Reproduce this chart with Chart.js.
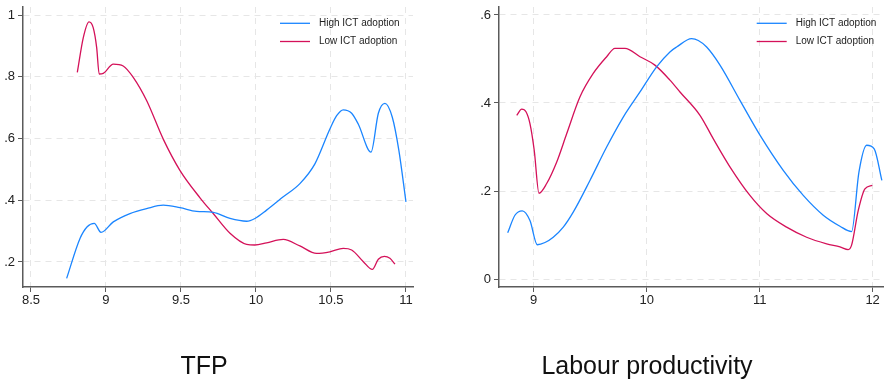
<!DOCTYPE html>
<html>
<head>
<meta charset="utf-8">
<script src="https://cdn.jsdelivr.net/npm/chart.js@4/dist/chart.umd.min.js"></script>
<style>
  html, body { margin: 0; padding: 0; background: #fff; }
  #wrap { position: relative; width: 888px; height: 380px; overflow: hidden; }
  .box { position: absolute; top: 0; width: 444px; height: 380px; }
  .title { position: absolute; font-family: "Liberation Sans", Arial, sans-serif; font-size: 25px; color: #111;
           line-height: 25px; white-space: nowrap; transform: translateX(-50%); }
</style>
</head>
<body>
<div id="wrap">
  <div class="box" style="left:0"><canvas id="tfp"></canvas></div>
  <div class="box" style="left:444px"><canvas id="lp"></canvas></div>
  <div class="title" style="left:204px; top:353px">TFP</div>
  <div class="title" style="left:647px; top:353px">Labour productivity</div>
</div>
<script>
// series names
const seriesNames = ['High ICT adoption', 'Low ICT adoption'];

// TFP panel
const tfpHighX = [8.738, 8.827, 8.875, 8.922, 8.967, 9.049, 9.16, 9.271, 9.382, 9.493, 9.604, 9.715, 9.827, 9.938, 9.993, 10.071, 10.182, 10.293, 10.393, 10.493, 10.538, 10.582, 10.638, 10.682, 10.767, 10.816, 10.86, 10.909, 10.953, 11.0];
const tfpHighY = [0.147, 0.276, 0.314, 0.325, 0.296, 0.330, 0.357, 0.373, 0.384, 0.376, 0.364, 0.361, 0.341, 0.332, 0.341, 0.368, 0.411, 0.454, 0.518, 0.631, 0.674, 0.693, 0.682, 0.647, 0.556, 0.682, 0.714, 0.669, 0.561, 0.395];
const tfpLowX = [8.809, 8.849, 8.887, 8.915, 8.938, 8.955, 8.982, 9.049, 9.115, 9.182, 9.271, 9.382, 9.493, 9.627, 9.715, 9.827, 9.938, 9.993, 10.071, 10.182, 10.293, 10.404, 10.493, 10.582, 10.638, 10.716, 10.776, 10.816, 10.856, 10.893, 10.927];
const tfpLowY = [0.814, 0.927, 0.978, 0.959, 0.895, 0.809, 0.811, 0.841, 0.835, 0.798, 0.723, 0.598, 0.497, 0.408, 0.357, 0.293, 0.257, 0.255, 0.262, 0.273, 0.252, 0.228, 0.233, 0.244, 0.239, 0.201, 0.176, 0.209, 0.218, 0.212, 0.193];
const tfpXTicks = [8.5, 9, 9.5, 10, 10.5, 11];
const tfpYTicks = [0.2, 0.4, 0.6, 0.8, 1];

// Labour productivity panel
const lpHighX = [8.770, 8.834, 8.899, 8.967, 9.032, 9.1, 9.173, 9.262, 9.35, 9.498, 9.646, 9.793, 9.941, 10.088, 10.206, 10.265, 10.398, 10.457, 10.531, 10.649, 10.826, 11.003, 11.209, 11.386, 11.563, 11.711, 11.814, 11.879, 11.947, 12.014, 12.082];
const lpHighY = [0.105, 0.145, 0.155, 0.133, 0.078, 0.083, 0.095, 0.118, 0.152, 0.224, 0.300, 0.368, 0.425, 0.482, 0.516, 0.527, 0.546, 0.542, 0.527, 0.486, 0.406, 0.327, 0.247, 0.190, 0.145, 0.120, 0.108, 0.243, 0.304, 0.296, 0.224];
const lpLowX = [8.85, 8.894, 8.932, 8.967, 9.005, 9.047, 9.115, 9.204, 9.292, 9.41, 9.527, 9.646, 9.719, 9.808, 9.941, 10.073, 10.206, 10.295, 10.472, 10.589, 10.737, 10.914, 11.062, 11.239, 11.416, 11.593, 11.711, 11.784, 11.814, 11.873, 11.932, 11.997];
const lpLowY = [0.372, 0.386, 0.380, 0.353, 0.292, 0.195, 0.217, 0.266, 0.330, 0.414, 0.467, 0.505, 0.524, 0.524, 0.505, 0.486, 0.452, 0.425, 0.372, 0.319, 0.255, 0.190, 0.149, 0.118, 0.095, 0.080, 0.073, 0.067, 0.077, 0.156, 0.205, 0.213];
const lpXTicks = [9, 10, 11, 12];
const lpYTicks = [0, 0.2, 0.4, 0.6];

const BLUE = '#1a85ff';
const RED = '#d41159';
const GRID = '#e6e6e6';
const AXIS = '#5a5a5a';

function toPoints(xs, ys) {
  return xs.map((x, i) => ({ x: x, y: ys[i] }));
}

function fmtY(v) {
  if (Math.abs(v) < 1e-9) return '0';
  if (Math.abs(v - 1) < 1e-9) return '1';
  return String(Number(v.toFixed(1))).replace(/^0/, '');
}

// legend in the top right corner of the plot area
function legendPlugin(lineX) {
  return {
    id: 'cornerLegend',
    afterDraw(chart) {
      const ctx = chart.ctx;
      const rows = [[seriesNames[0], BLUE, 23.3], [seriesNames[1], RED, 41.5]];
      ctx.save();
      ctx.font = '10px "Liberation Sans", Arial, sans-serif';
      ctx.textBaseline = 'middle';
      rows.forEach(([label, color, y]) => {
        ctx.strokeStyle = color;
        ctx.lineWidth = 1.3;
        ctx.beginPath();
        ctx.moveTo(lineX, y);
        ctx.lineTo(lineX + 30, y);
        ctx.stroke();
        ctx.fillStyle = '#222';
        ctx.fillText(label, lineX + 39, y);
      });
      ctx.restore();
    }
  };
}

function makeChart(id, cfg) {
  const tickFont = { family: '"Liberation Sans", Arial, sans-serif', size: 13 };
  return new Chart(document.getElementById(id), {
    type: 'line',
    data: {
      datasets: [
        { label: seriesNames[0], data: toPoints(cfg.hx, cfg.hy), borderColor: BLUE, borderWidth: 1.3, pointRadius: 0, cubicInterpolationMode: 'monotone', fill: false },
        { label: seriesNames[1], data: toPoints(cfg.lx, cfg.ly), borderColor: RED, borderWidth: 1.3, pointRadius: 0, cubicInterpolationMode: 'monotone', fill: false }
      ]
    },
    options: {
      responsive: false,
      animation: false,
      devicePixelRatio: 1,
      layout: { padding: { left: 0, top: 7, right: cfg.padRight, bottom: 0 } },
      plugins: { legend: { display: false }, tooltip: { enabled: false } },
      scales: {
        x: {
          type: 'linear',
          min: cfg.xMin,
          max: cfg.xMax,
          afterBuildTicks: (s) => { s.ticks = cfg.xTicks.map((v) => ({ value: v })); },
          afterFit: (s) => { s.height = 93; s.paddingLeft = 0; s.paddingRight = 0; },
          ticks: { font: tickFont, color: '#222', padding: 1, maxRotation: 0, callback: (v) => String(v) },
          grid: { color: GRID, lineWidth: 1, tickLength: 5, tickColor: AXIS, tickWidth: 1, tickBorderDash: [] },
          border: { color: AXIS, width: 1.5, dash: [6, 5] }
        },
        y: {
          type: 'linear',
          min: cfg.yMin,
          max: cfg.yMax,
          afterBuildTicks: (s) => { s.ticks = cfg.yTicks.map((v) => ({ value: v })); },
          afterFit: (s) => { s.width = cfg.yWidth; s.paddingTop = 0; s.paddingBottom = 0; },
          ticks: { font: tickFont, color: '#222', padding: 3, callback: fmtY },
          grid: { color: GRID, lineWidth: 1, tickLength: 5, tickColor: AXIS, tickWidth: 1, tickBorderDash: [] },
          border: { color: AXIS, width: 1.5, dash: [6, 5] }
        }
      }
    },
    plugins: [legendPlugin(cfg.legendX)]
  });
}

const c1 = document.getElementById('tfp');
c1.width = 444; c1.height = 380;
const c2 = document.getElementById('lp');
c2.width = 444; c2.height = 380;

makeChart('tfp', {
  hx: tfpHighX, hy: tfpHighY, lx: tfpLowX, ly: tfpLowY,
  xMin: 8.447, xMax: 11.047, yMin: 0.119, yMax: 1.026,
  xTicks: tfpXTicks, yTicks: tfpYTicks,
  yWidth: 23, padRight: 31, legendX: 280
});

makeChart('lp', {
  hx: lpHighX, hy: lpHighY, lx: lpLowX, ly: lpLowY,
  xMin: 8.693, xMax: 12.092, yMin: -0.018, yMax: 0.618,
  xTicks: lpXTicks, yTicks: lpYTicks,
  yWidth: 55, padRight: 5, legendX: 312.7
});
</script>
</body>
</html>
